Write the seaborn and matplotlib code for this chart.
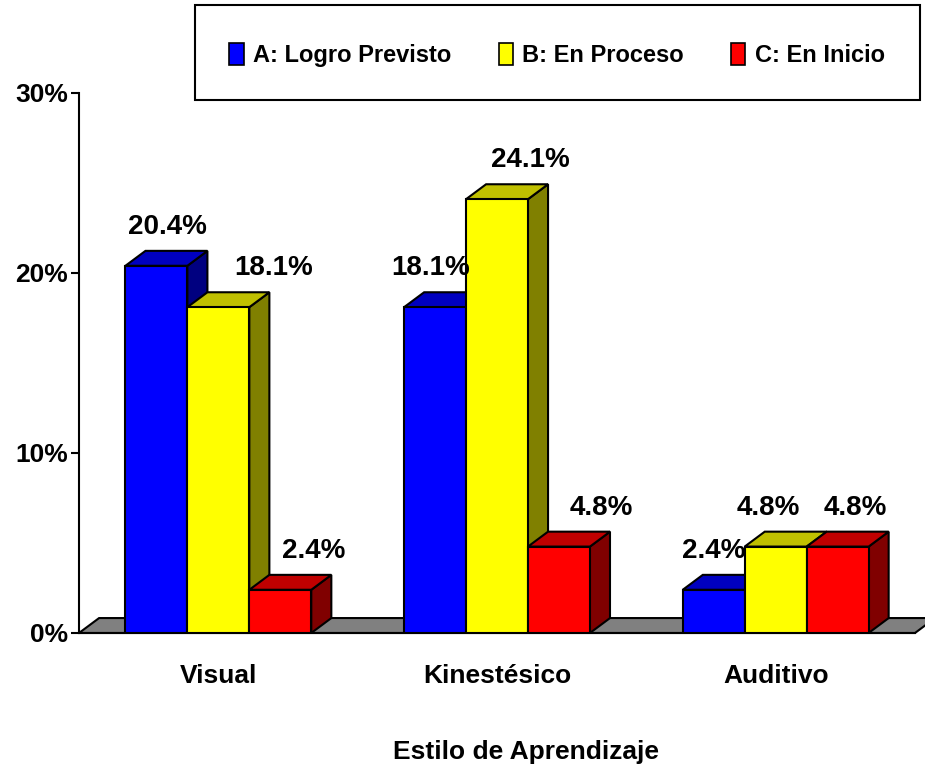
import matplotlib
matplotlib.use('Agg')
import matplotlib.pyplot as plt
import seaborn as sns
import pandas as pd
from matplotlib.patches import Polygon, Rectangle

# datos
estilos = ['Visual', 'Kinestésico', 'Auditivo']
niveles = ['A: Logro Previsto', 'B: En Proceso', 'C: En Inicio']
logro_previsto = [20.4, 18.1, 2.4]
en_proceso = [18.1, 24.1, 4.8]
en_inicio = [2.4, 4.8, 4.8]

# colores estilo Excel 3D (frente, tapa, lado)
colores_frente = ['#0000FF', '#FFFF00', '#FF0000']
colores_tapa = ['#0000C0', '#C0C000', '#C00000']
colores_lado = ['#000080', '#808000', '#800000']

# desplazamiento horizontal de cada etiqueta (px), por nivel y estilo
ajuste_etiquetas = [[1, -14, -10], [45, 23, -17], [23, 32, 8]]

df = pd.DataFrame({
    'Estilo': estilos * 3,
    'Nivel': [n for n in niveles for _ in estilos],
    'Porcentaje': logro_previsto + en_proceso + en_inicio,
})

sns.set_style('white')
plt.rcParams['font.family'] = ['Liberation Sans', 'DejaVu Sans']
plt.rcParams['text.color'] = 'black'
plt.rcParams['xtick.color'] = 'black'
plt.rcParams['ytick.color'] = 'black'
plt.rcParams['xtick.labelcolor'] = 'black'
plt.rcParams['ytick.labelcolor'] = 'black'

fig = plt.figure(figsize=(9.25, 7.71), dpi=100)
ax = fig.add_axes([79 / 925, 138 / 771, 836 / 925, 540 / 771])

sns.barplot(data=df, x='Estilo', y='Porcentaje', hue='Nivel', palette=colores_frente,
            saturation=1, width=0.667, edgecolor='black', linewidth=1.5, ax=ax, legend=False)

dx, dy = 0.072, 0.83

# piso gris
piso = Polygon([(-0.5, 0), (2.5, 0), (2.5 + dx, dy), (-0.5 + dx, dy)], closed=True,
               facecolor='#808080', edgecolor='black', linewidth=1.5, zorder=1, clip_on=False)
ax.add_patch(piso)

barras = []
for i, cont in enumerate(ax.containers):
    for j, p in enumerate(cont.patches):
        barras.append((p.get_x(), i, j, p))
barras.sort(key=lambda b: b[0])

for k, (x0, i, j, p) in enumerate(barras):
    w = p.get_width()
    h = p.get_height()
    z = 3 + 3 * k
    lado = Polygon([(x0 + w, 0), (x0 + w + dx, dy), (x0 + w + dx, h + dy), (x0 + w, h)],
                   closed=True, facecolor=colores_lado[i], edgecolor='black', linewidth=1.5, zorder=z)
    tapa = Polygon([(x0, h), (x0 + w, h), (x0 + w + dx, h + dy), (x0 + dx, h + dy)],
                   closed=True, facecolor=colores_tapa[i], edgecolor='black', linewidth=1.5, zorder=z + 1)
    ax.add_patch(lado)
    ax.add_patch(tapa)
    p.set_zorder(z + 2)
    ax.annotate(f'{h:.1f}%', xy=(x0 + w / 2 + dx / 2, h + dy), xytext=(ajuste_etiquetas[i][j] * 0.72, 24 * 0.72),
                textcoords='offset points', ha='center', va='center', fontsize=20,
                fontweight='bold', color='black', zorder=100, annotation_clip=False)

ax.set_xlim(-0.5, 2.5)
ax.set_ylim(0, 30)
ax.set_yticks([0, 10, 20, 30])
ax.set_yticklabels([f'{v}%' for v in [0, 10, 20, 30]], fontsize=19, fontweight='bold')
ax.set_xticks(range(len(estilos)))
ax.set_xticklabels(estilos, fontsize=19, fontweight='bold')
ax.set_xticks([-0.5, 0.5, 1.5, 2.5], minor=True)
ax.tick_params(axis='x', which='major', length=0, pad=22)
ax.tick_params(axis='x', which='minor', length=10, width=1.5, direction='out', color='black')
ax.tick_params(axis='y', length=6, width=1.5, direction='out', color='black', pad=2, left=True)
ax.set_xlabel('')
ax.set_ylabel('')
for s in ['top', 'right']:
    ax.spines[s].set_visible(False)
for s in ['left', 'bottom']:
    ax.spines[s].set_color('black')
    ax.spines[s].set_linewidth(1.5)
ax.spines['bottom'].set_zorder(2)

fig.text(526 / 925, 1 - 752 / 771, 'Estilo de Aprendizaje', ha='center', va='center',
         fontsize=19, fontweight='bold', color='black')

# leyenda con marco rectangular
marco = Rectangle((195 / 925, 1 - 100 / 771), 725 / 925, 95 / 771, transform=fig.transFigure,
                  facecolor='white', edgecolor='black', linewidth=1.5)
fig.patches.append(marco)
handles = [Rectangle((0, 0), 1, 1, facecolor=c, edgecolor='black', linewidth=1.2) for c in colores_frente]
fig.legend(handles, niveles, loc='center', bbox_to_anchor=(557 / 925, 1 - 55 / 771), ncol=3,
           frameon=False, prop={'size': 17, 'weight': 'bold'}, handlelength=0.6, handleheight=1.1,
           handletextpad=0.4, columnspacing=2.0, labelcolor='black')

fig.savefig('out.png', dpi=100)
